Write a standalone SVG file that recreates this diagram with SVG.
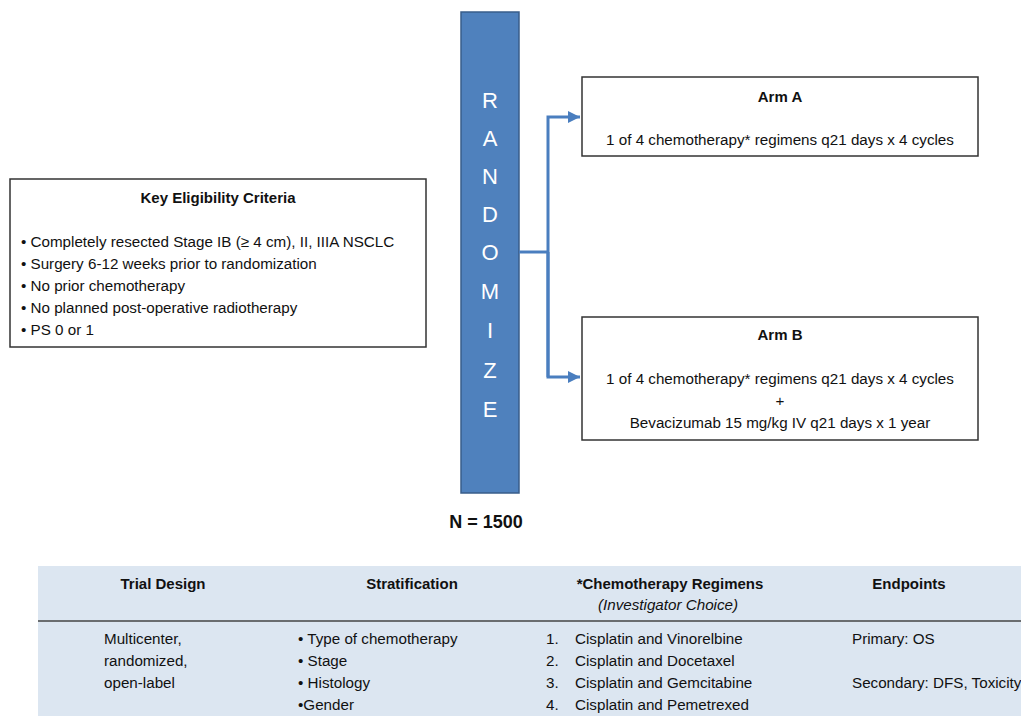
<svg xmlns="http://www.w3.org/2000/svg" width="1021" height="716" viewBox="0 0 1021 716">
<style>
text{font-family:"Liberation Sans",Arial,sans-serif;fill:#111}
.b{font-weight:bold}
.box{fill:#fff;stroke:#333;stroke-width:1.5}
.t{font-size:15.2px}
.h{font-size:15px;font-weight:bold}
.rl{font-size:22px;fill:#fff;text-anchor:middle}
.c{text-anchor:middle}
.conn{fill:none;stroke:#4a7ebf;stroke-width:3}
</style>
<defs>
<marker id="ah" markerWidth="4" markerHeight="4" refX="4" refY="2" orient="auto" markerUnits="strokeWidth">
<path d="M0,0 L4,2 L0,4 z" fill="#4a7ebf"/>
</marker>
</defs>
<rect width="1021" height="716" fill="#fff"/>

<g id="eligibility">
<rect class="box" x="10" y="179" width="416" height="168"/>
<text class="h c" x="218" y="203">Key Eligibility Criteria</text>
<text class="t" x="21" y="247">• Completely resected Stage IB (≥ 4 cm), II, IIIA NSCLC</text>
<text class="t" x="21" y="269">• Surgery 6-12 weeks prior to randomization</text>
<text class="t" x="21" y="291">• No prior chemotherapy</text>
<text class="t" x="21" y="313">• No planned post-operative radiotherapy</text>
<text class="t" x="21" y="335">• PS 0 or 1</text>
</g>

<g id="randomize">
<rect x="461" y="12" width="58" height="481" fill="#4f81bd" stroke="#385d8a" stroke-width="1.5"/>
<text class="rl" x="490" y="108">R</text>
<text class="rl" x="490" y="146">A</text>
<text class="rl" x="490" y="184">N</text>
<text class="rl" x="490" y="222">D</text>
<text class="rl" x="490" y="260">O</text>
<text class="rl" x="490" y="299">M</text>
<text class="rl" x="490" y="338">I</text>
<text class="rl" x="490" y="378">Z</text>
<text class="rl" x="490" y="417">E</text>
</g>

<g id="connectors">
<path class="conn" d="M519,252 H548"/>
<path class="conn" d="M548,377 V117 H580" marker-end="url(#ah)"/>
<path class="conn" d="M548,252 V377 H580" marker-end="url(#ah)"/>
</g>

<g id="armA">
<rect class="box" x="582" y="77" width="396" height="79"/>
<text class="h c" x="780" y="102">Arm A</text>
<text class="t c" x="780" y="145">1 of 4 chemotherapy* regimens q21 days x 4 cycles</text>
</g>

<g id="armB">
<rect class="box" x="582" y="317" width="396" height="123"/>
<text class="h c" x="780" y="340">Arm B</text>
<text class="t c" x="780" y="384">1 of 4 chemotherapy* regimens q21 days x 4 cycles</text>
<text class="t c" x="780" y="406">+</text>
<text class="t c" x="780" y="428">Bevacizumab 15 mg/kg IV q21 days x 1 year</text>
</g>

<g id="n">
<text class="b c" x="486" y="528" font-size="18">N = 1500</text>
</g>

<g id="table">
<rect x="38" y="566" width="983" height="150" fill="#dce6f1"/>
<line x1="38" y1="621" x2="1021" y2="621" stroke="#444" stroke-width="1.5"/>
<text class="h c" x="163" y="589">Trial Design</text>
<text class="h c" x="412" y="589">Stratification</text>
<text class="h c" x="670" y="589">*Chemotherapy Regimens</text>
<text class="t c" x="668" y="610" font-style="italic">(Investigator Choice)</text>
<text class="h c" x="909" y="589">Endpoints</text>
<text class="t" x="104" y="644">Multicenter,</text>
<text class="t" x="104" y="666">randomized,</text>
<text class="t" x="104" y="688">open-label</text>
<text class="t" x="298" y="644">• Type of chemotherapy</text>
<text class="t" x="298" y="666">• Stage</text>
<text class="t" x="298" y="688">• Histology</text>
<text class="t" x="298" y="710">•Gender</text>
<text class="t" x="546" y="644">1.</text>
<text class="t" x="546" y="666">2.</text>
<text class="t" x="546" y="688">3.</text>
<text class="t" x="546" y="710">4.</text>
<text class="t" x="575" y="644">Cisplatin and Vinorelbine</text>
<text class="t" x="575" y="666">Cisplatin and Docetaxel</text>
<text class="t" x="575" y="688">Cisplatin and Gemcitabine</text>
<text class="t" x="575" y="710">Cisplatin and Pemetrexed</text>
<text class="t" x="852" y="644">Primary: OS</text>
<text class="t" x="852" y="688">Secondary: DFS, Toxicity</text>
</g>
</svg>
